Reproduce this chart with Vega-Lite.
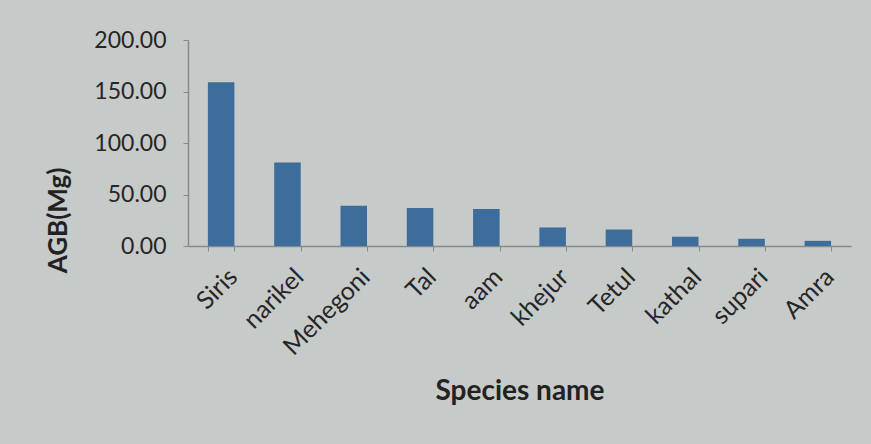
{
  "$schema": "https://vega.github.io/schema/vega-lite/v6.json",
  "width": 663,
  "height": 206,
  "autosize": {"type": "none"},
  "padding": {"left": 188, "top": 40, "right": 20, "bottom": 198},
  "background": "#c6cac9",
  "config": {
    "view": {"stroke": null},
    "font": "Lato",
    "axis": {
      "labelFont": "Lato",
      "titleFont": "Lato",
      "labelColor": "#262626",
      "titleColor": "#222222",
      "domainColor": "#868b8a",
      "tickColor": "#868b8a",
      "grid": false
    }
  },
  "data": {
    "values": [
      {"species": "Siris", "agb": 159},
      {"species": "narikel", "agb": 81},
      {"species": "Mehegoni", "agb": 39},
      {"species": "Tal", "agb": 37},
      {"species": "aam", "agb": 36},
      {"species": "khejur", "agb": 18},
      {"species": "Tetul", "agb": 16},
      {"species": "kathal", "agb": 9},
      {"species": "supari", "agb": 7},
      {"species": "Amra", "agb": 5}
    ]
  },
  "mark": {"type": "bar", "color": "#3d6d9a"},
  "encoding": {
    "x": {
      "field": "species",
      "type": "nominal",
      "sort": null,
      "scale": {"paddingInner": 0.6, "paddingOuter": 0.3},
      "axis": {
        "title": "Species name",
        "titleFontSize": 28,
        "titleFontWeight": "bold",
        "titlePadding": 18,
        "labelAngle": -45,
        "labelAlign": "right",
        "labelBaseline": "top",
        "labelFontSize": 25,
        "labelPadding": 13,
        "labelOffset": 3,
        "tickBand": "extent",
        "tickSize": 5,
        "domainWidth": 1.5
      }
    },
    "y": {
      "field": "agb",
      "type": "quantitative",
      "scale": {"domain": [0, 200], "nice": false},
      "axis": {
        "title": "AGB(Mg)",
        "titleFontSize": 26,
        "titleFontWeight": "bold",
        "titleX": -130,
        "titleY": 180,
        "titleAlign": "center",
        "titleBaseline": "middle",
        "values": [0, 50, 100, 150, 200],
        "format": ".2f",
        "labelFontSize": 23,
        "labelPadding": 17,
        "tickSize": 5,
        "domainWidth": 1.5
      }
    }
  }
}
